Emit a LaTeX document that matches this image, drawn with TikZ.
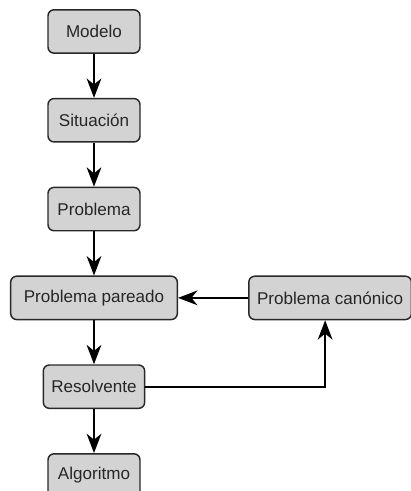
\documentclass[tikz,border=0pt]{standalone}
\usepackage{fontspec}
\setmainfont{Liberation Sans}
\usepackage{tikz}
\usetikzlibrary{arrows.meta, positioning}
\definecolor{boxgray}{RGB}{211,211,211}
\definecolor{edgegray}{RGB}{40,40,40}

\begin{document}
\begin{tikzpicture}[
    box/.style={rectangle, draw=edgegray, line width=1.1pt, rounded corners=4.5pt, fill=boxgray,
        minimum width=69pt, minimum height=32.5pt, inner xsep=2pt, text centered,
        text=black!85, font=\fontsize{12.8}{14}\selectfont},
    arrow/.style={-{Stealth[length=14.5pt, width=11pt, inset=4.5pt]}, line width=1.7pt, color=black}
]
\useasboundingbox (0,0) rectangle (307.5pt,-368.25pt);
\node[box] (modelo) at (70.5pt,-23.6pt) {Modelo};
\node[box, below=33pt of modelo]    (situacion) {Situación};
\node[box, below=33pt of situacion] (problema)  {Problema};
\node[box, below=33pt of problema, minimum width=125pt] (pareado) {Problema pareado};
\node[box, right=52.5pt of pareado, minimum width=122pt] (canonico) {Problema canónico};
\node[box, below=33pt of pareado, minimum width=76pt] (resolvente) {Resolvente};
\node[box, below=33pt of resolvente] (algoritmo) {Algoritmo};

\draw[arrow] (modelo)     -- (situacion);
\draw[arrow] (situacion)  -- (problema);
\draw[arrow] (problema)   -- (pareado);
\draw[arrow] (pareado)    -- (resolvente);
\draw[arrow] (resolvente) -- (algoritmo);
\draw[arrow] (canonico)   -- (pareado);
\draw[arrow] (resolvente.east) -| ([xshift=-3.75pt]canonico.south);
\end{tikzpicture}
\end{document}
